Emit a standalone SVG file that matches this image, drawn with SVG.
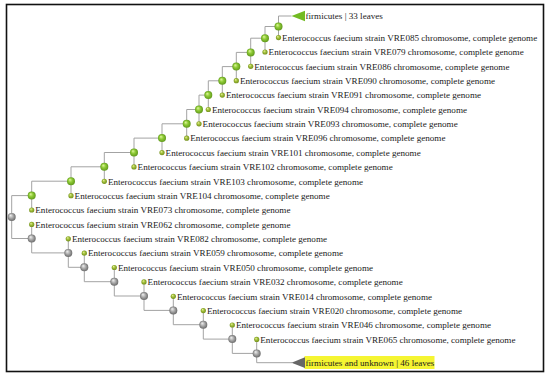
<svg xmlns="http://www.w3.org/2000/svg" width="550" height="379" viewBox="0 0 550 379">
<defs>
<radialGradient id="gG" cx="50%" cy="50%" r="55%" fx="35%" fy="30%">
<stop offset="0" stop-color="#e2f7a0"/><stop offset="0.45" stop-color="#8fcc36"/><stop offset="1" stop-color="#5a9218"/>
</radialGradient>
<radialGradient id="gL" cx="50%" cy="50%" r="55%" fx="35%" fy="30%">
<stop offset="0" stop-color="#e6f09a"/><stop offset="0.5" stop-color="#9dbb35"/><stop offset="1" stop-color="#6e8a1c"/>
</radialGradient>
<radialGradient id="gY" cx="50%" cy="50%" r="55%" fx="35%" fy="30%">
<stop offset="0" stop-color="#f2f2f2"/><stop offset="0.5" stop-color="#a8a8a8"/><stop offset="1" stop-color="#626262"/>
</radialGradient>
</defs>
<style>
.e{fill:none;stroke:#a3a3a3;stroke-width:1}
.n{fill:url(#gG)}
.g{fill:url(#gY)}
.l{fill:url(#gL)}
text{font-family:"Liberation Serif","Times New Roman",serif;font-size:9.1px;fill:#1a1a1a}
</style>
<rect x="0" y="0" width="550" height="379" fill="#ffffff"/>
<rect x="6.5" y="4.5" width="537" height="367" fill="none" stroke="#111" stroke-width="1.6"/>
<g id="connectors">
<path class="e" d="M291.5 16 H278.5 V37.6"/>
<path class="e" d="M278.5 26.5 H265 V52"/>
<path class="e" d="M265 38.2 H250.7 V66.3"/>
<path class="e" d="M250.7 52.4 H236.3 V80.7"/>
<path class="e" d="M236.3 66.6 H222.3 V95.1"/>
<path class="e" d="M222.3 80.8 H208.3 V109.5"/>
<path class="e" d="M208.3 95.1 H199 V123.8"/>
<path class="e" d="M199 109.5 H186.7 V138.2"/>
<path class="e" d="M186.7 123.8 H162 V152.6"/>
<path class="e" d="M162 138.1 H134 V166.9"/>
<path class="e" d="M134 152.5 H104.3 V181.3"/>
<path class="e" d="M104.3 166.8 H71 V195.7"/>
<path class="e" d="M71 181.2 H31.7 V210"/>
<path class="e" d="M31.7 195.6 H11.7 V238.5 H31.7"/>
<path class="e" d="M31.7 224.4 V238.5 V252.9 H68.3"/>
<path class="e" d="M68.3 238.8 V267.3 H84.3"/>
<path class="e" d="M84.3 253.2 V281.7 H114.3"/>
<path class="e" d="M114.3 267.5 V296 H144"/>
<path class="e" d="M144 281.9 V310.4 H173.3"/>
<path class="e" d="M173.3 296.3 V324.7 H203.3"/>
<path class="e" d="M203.3 310.6 V339.1 H232.3"/>
<path class="e" d="M232.3 325 V353.4 H256.7"/>
<path class="e" d="M256.7 339.4 V362.7 H292"/>
</g>
<g id="clade-firmicutes">
<polygon points="291.5,16 305,10.8 305,21.2" fill="#72bb22"/>
<text x="305.5" y="19.2">firmicutes | 33 leaves</text>
</g>
<g id="clade-unknown">
<rect x="304.5" y="356" width="130" height="13" fill="#f5f532"/>
<polygon points="291.5,362.7 305,357.3 305,368.1" fill="#666666"/>
<text x="305.5" y="365.9">firmicutes and unknown | 46 leaves</text>
</g>
<g id="internal-nodes">
<circle id="N1" class="n" cx="278.5" cy="26.5" r="4"/>
<circle id="N2" class="n" cx="265" cy="38.2" r="4"/>
<circle id="N3" class="n" cx="250.7" cy="52.4" r="4"/>
<circle id="N4" class="n" cx="236.3" cy="66.6" r="4"/>
<circle id="N5" class="n" cx="222.3" cy="80.8" r="4"/>
<circle id="N6" class="n" cx="208.3" cy="95.1" r="4"/>
<circle id="N7" class="n" cx="199" cy="109.5" r="4"/>
<circle id="N8" class="n" cx="186.7" cy="123.8" r="4"/>
<circle id="N9" class="n" cx="162" cy="138.1" r="4"/>
<circle id="N10" class="n" cx="134" cy="152.5" r="4"/>
<circle id="N11" class="n" cx="104.3" cy="166.8" r="4"/>
<circle id="N12" class="n" cx="71" cy="181.2" r="4"/>
<circle id="N13" class="n" cx="31.7" cy="195.6" r="4"/>
<circle id="root" class="g" cx="11.7" cy="216.9" r="4"/>
<circle id="G1" class="g" cx="31.7" cy="238.5" r="4"/>
<circle id="G2" class="g" cx="68.3" cy="252.9" r="4"/>
<circle id="G3" class="g" cx="84.3" cy="267.3" r="4"/>
<circle id="G4" class="g" cx="114.3" cy="281.7" r="4"/>
<circle id="G5" class="g" cx="144" cy="296" r="4"/>
<circle id="G6" class="g" cx="173.3" cy="310.4" r="4"/>
<circle id="G7" class="g" cx="203.3" cy="324.7" r="4"/>
<circle id="G8" class="g" cx="232.3" cy="339.1" r="4"/>
<circle id="G9" class="g" cx="256.7" cy="353.4" r="4"/>
</g>
<g id="VRE085"><circle class="l" cx="278.5" cy="37.6" r="2.6"/><text x="282.1" y="40.8">Enterococcus faecium strain VRE085 chromosome, complete genome</text></g>
<g id="VRE079"><circle class="l" cx="265" cy="52" r="2.6"/><text x="268.6" y="55.2">Enterococcus faecium strain VRE079 chromosome, complete genome</text></g>
<g id="VRE086"><circle class="l" cx="250.7" cy="66.3" r="2.6"/><text x="254.3" y="69.5">Enterococcus faecium strain VRE086 chromosome, complete genome</text></g>
<g id="VRE090"><circle class="l" cx="236.3" cy="80.7" r="2.6"/><text x="239.9" y="83.9">Enterococcus faecium strain VRE090 chromosome, complete genome</text></g>
<g id="VRE091"><circle class="l" cx="222.3" cy="95.1" r="2.6"/><text x="225.9" y="98.3">Enterococcus faecium strain VRE091 chromosome, complete genome</text></g>
<g id="VRE094"><circle class="l" cx="208.3" cy="109.5" r="2.6"/><text x="211.9" y="112.7">Enterococcus faecium strain VRE094 chromosome, complete genome</text></g>
<g id="VRE093"><circle class="l" cx="199" cy="123.8" r="2.6"/><text x="202.6" y="127">Enterococcus faecium strain VRE093 chromosome, complete genome</text></g>
<g id="VRE096"><circle class="l" cx="186.7" cy="138.2" r="2.6"/><text x="190.3" y="141.4">Enterococcus faecium strain VRE096 chromosome, complete genome</text></g>
<g id="VRE101"><circle class="l" cx="162" cy="152.6" r="2.6"/><text x="165.6" y="155.8">Enterococcus faecium strain VRE101 chromosome, complete genome</text></g>
<g id="VRE102"><circle class="l" cx="134" cy="166.9" r="2.6"/><text x="137.6" y="170.1">Enterococcus faecium strain VRE102 chromosome, complete genome</text></g>
<g id="VRE103"><circle class="l" cx="104.3" cy="181.3" r="2.6"/><text x="107.9" y="184.5">Enterococcus faecium strain VRE103 chromosome, complete genome</text></g>
<g id="VRE104"><circle class="l" cx="71" cy="195.7" r="2.6"/><text x="74.6" y="198.9">Enterococcus faecium strain VRE104 chromosome, complete genome</text></g>
<g id="VRE073"><circle class="l" cx="31.7" cy="210" r="2.6"/><text x="35.3" y="213.2">Enterococcus faecium strain VRE073 chromosome, complete genome</text></g>
<g id="VRE062"><circle class="l" cx="31.7" cy="224.4" r="2.6"/><text x="35.3" y="227.6">Enterococcus faecium strain VRE062 chromosome, complete genome</text></g>
<g id="VRE082"><circle class="l" cx="68.3" cy="238.8" r="2.6"/><text x="71.9" y="242">Enterococcus faecium strain VRE082 chromosome, complete genome</text></g>
<g id="VRE059"><circle class="l" cx="84.3" cy="253.2" r="2.6"/><text x="87.9" y="256.4">Enterococcus faecium strain VRE059 chromosome, complete genome</text></g>
<g id="VRE050"><circle class="l" cx="114.3" cy="267.5" r="2.6"/><text x="117.9" y="270.7">Enterococcus faecium strain VRE050 chromosome, complete genome</text></g>
<g id="VRE032"><circle class="l" cx="144" cy="281.9" r="2.6"/><text x="147.6" y="285.1">Enterococcus faecium strain VRE032 chromosome, complete genome</text></g>
<g id="VRE014"><circle class="l" cx="173.3" cy="296.3" r="2.6"/><text x="176.9" y="299.5">Enterococcus faecium strain VRE014 chromosome, complete genome</text></g>
<g id="VRE020"><circle class="l" cx="203.3" cy="310.6" r="2.6"/><text x="206.9" y="313.8">Enterococcus faecium strain VRE020 chromosome, complete genome</text></g>
<g id="VRE046"><circle class="l" cx="232.3" cy="325" r="2.6"/><text x="235.9" y="328.2">Enterococcus faecium strain VRE046 chromosome, complete genome</text></g>
<g id="VRE065"><circle class="l" cx="256.7" cy="339.4" r="2.6"/><text x="260.3" y="342.6">Enterococcus faecium strain VRE065 chromosome, complete genome</text></g>
</svg>
